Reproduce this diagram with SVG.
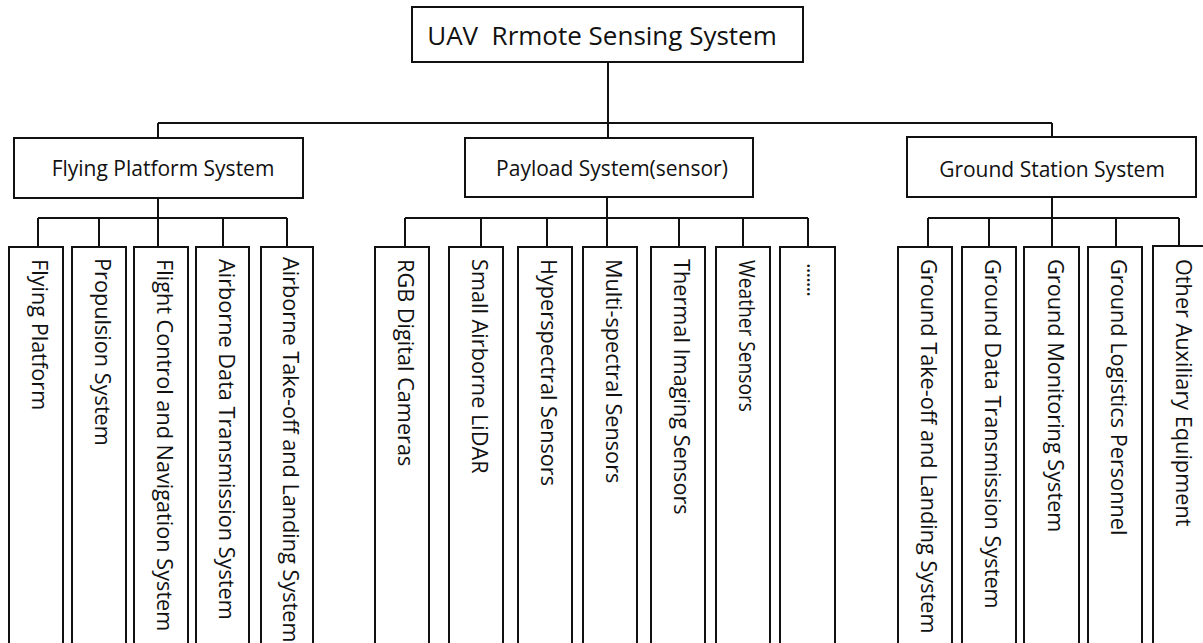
<svg xmlns="http://www.w3.org/2000/svg" width="1203" height="643" viewBox="0 0 1203 643">
<style>
.box{fill:#fff;stroke:#111;stroke-width:2}
.conn{fill:none;stroke:#111;stroke-width:2}
text{font-family:"Open Sans","Noto Sans","Liberation Sans",sans-serif;fill:#111}
.t0{font-size:26px;text-anchor:middle}
.t1{font-size:21px;text-anchor:middle}
.tv{font-size:21.7px}
</style>
<rect width="1203" height="643" fill="#fff"/>
<g id="connectors">
<path class="conn" d="M608 62V138M158 123H1052M158 123V138M1052 123V138
M158 198V218M38 218H287M38 218V247M99 218V247M158 218V247M223 218V247M287 218V247
M607 197V218M405 218H808M405 218V247M481 218V247M547 218V247M607 218V247M679 218V247M743 218V247M808 218V247
M1052 197V218M928 218H1179M928 218V247M989 218V247M1052 218V247M1116 218V247M1179 218V247"/>
</g>
<g id="root"><rect class="box" x="412" y="7" width="391" height="55"/><text class="t0" x="602" y="45">UAV&#160; Rrmote Sensing System</text></g>
<g id="flying"><rect class="box" x="14" y="138" width="289" height="60"/><text class="t1" x="163" y="176">Flying Platform System</text></g>
<g id="payload"><rect class="box" x="465" y="138" width="288" height="59"/><text class="t1" x="612" y="176">Payload System(sensor)</text></g>
<g id="ground"><rect class="box" x="907" y="137" width="289" height="60"/><text class="t1" x="1052" y="177">Ground Station System</text></g>

<g id="f1"><rect class="box" x="9" y="247" width="54" height="410"/><text class="tv" transform="translate(36,259) rotate(90)" y="4">Flying Platform</text></g>
<g id="f2"><rect class="box" x="72" y="247" width="54" height="410"/><text class="tv" transform="translate(99,258) rotate(90)" y="4">Propulsion System</text></g>
<g id="f3"><rect class="box" x="134" y="247" width="54" height="410"/><text class="tv" transform="translate(161,259) rotate(90)" y="4">Flight Control and Navigation System</text></g>
<g id="f4"><rect class="box" x="196" y="247" width="53" height="410"/><text class="tv" transform="translate(222.5,259) rotate(90)" y="4">Airborne Data Transmission System</text></g>
<g id="f5"><rect class="box" x="261" y="247" width="52" height="410"/><text class="tv" transform="translate(287,257) rotate(90)" y="4">Airborne Take-off and Landing System</text></g>

<g id="p1"><rect class="box" x="375" y="247" width="54" height="410"/><text class="tv" transform="translate(402,259) rotate(90)" y="4">RGB Digital Cameras</text></g>
<g id="p2"><rect class="box" x="449" y="247" width="54" height="410"/><text class="tv" transform="translate(476,259) rotate(90)" y="4">Small Airborne LiDAR</text></g>
<g id="p3"><rect class="box" x="518" y="247" width="54" height="410"/><text class="tv" transform="translate(545,259) rotate(90)" y="4">Hyperspectral Sensors</text></g>
<g id="p4"><rect class="box" x="583" y="247" width="54" height="410"/><text class="tv" transform="translate(610,259) rotate(90)" y="4">Multi-spectral Sensors</text></g>
<g id="p5"><rect class="box" x="651" y="247" width="54" height="410"/><text class="tv" transform="translate(678,259) rotate(90)" y="4">Thermal Imaging Sensors</text></g>
<g id="p6"><rect class="box" x="716" y="247" width="54" height="410"/><text class="tv" transform="translate(743,260) rotate(90)" y="4" textLength="152" lengthAdjust="spacingAndGlyphs">Weather Sensors</text></g>
<g id="p7"><rect class="box" x="780" y="247" width="55" height="410"/><text class="tv" transform="translate(807.5,263) rotate(90)" y="1" textLength="34" lengthAdjust="spacing">.......</text></g>

<g id="g1"><rect class="box" x="898" y="247" width="54" height="410"/><text class="tv" transform="translate(925,259) rotate(90)" y="4">Ground Take-off and Landing System</text></g>
<g id="g2"><rect class="box" x="962" y="247" width="54" height="410"/><text class="tv" transform="translate(989,259) rotate(90)" y="4">Ground Data Transmission System</text></g>
<g id="g3"><rect class="box" x="1024" y="247" width="55" height="410"/><text class="tv" transform="translate(1051.5,259) rotate(90)" y="4">Ground Monitoring System</text></g>
<g id="g4"><rect class="box" x="1088" y="247" width="54" height="410"/><text class="tv" transform="translate(1115,259) rotate(90)" y="4">Ground Logistics Personnel</text></g>
<g id="g5"><rect class="box" x="1153" y="246" width="54" height="410"/><text class="tv" transform="translate(1180,259) rotate(90)" y="4">Other Auxiliary Equipment</text></g>
</svg>
